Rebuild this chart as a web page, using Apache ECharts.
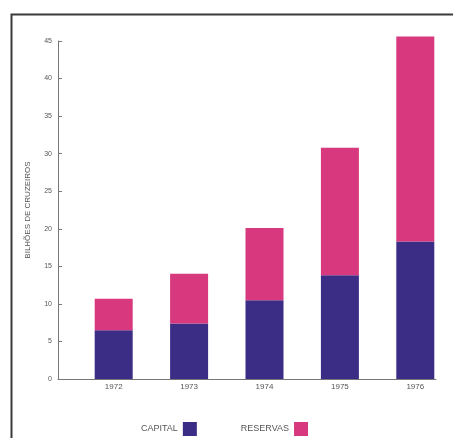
<!DOCTYPE html>
<html>
<head>
<meta charset="utf-8">
<script src="https://cdn.jsdelivr.net/npm/echarts@6/dist/echarts.min.js"></script>
<style>
  html, body { margin: 0; padding: 0; background: #fff; }
  #chart { width: 453px; height: 438px; }
</style>
</head>
<body>
<div id="chart"></div>
<script>
// Years and stacked values (bilhões de cruzeiros)
const years = ['1972', '1973', '1974', '1975', '1976'];
const capital = [6.5, 7.4, 10.5, 13.8, 18.3];
const reservas = [4.2, 6.6, 9.6, 17.0, 27.3];

const seriesNames = ['CAPITAL', 'RESERVAS'];
const colors = ['#3b2d86', '#d8387d'];

const chart = echarts.init(document.getElementById('chart'), null, { renderer: 'canvas' });

const axisColor = '#777';
const textColor = '#555';

chart.setOption({
  animation: false,
  backgroundColor: '#ffffff',
  textStyle: { fontFamily: 'Liberation Sans, Arial, sans-serif' },
  graphic: [{
    type: 'rect',
    left: 9, top: 12,
    shape: { width: 470, height: 450 },
    style: { fill: 'none', stroke: '#3a3a3a', lineWidth: 2 },
    silent: true
  }],
  // grid 0 carries the drawn axes; grid 1 holds the bars, offset to the right
  grid: [
    { left: 58, right: 17, top: 41, bottom: 59 },
    { left: 76, width: 381, top: 41, bottom: 59 }
  ],
  legend: {
    left: 136, top: 417,
    align: 'right',
    itemWidth: 14, itemHeight: 14, itemGap: 44,
    icon: 'rect',
    textStyle: { fontSize: 9, color: textColor },
    data: seriesNames
  },
  xAxis: [
    {
      gridIndex: 0, type: 'value', min: 0, max: 1,
      axisLine: { show: true, lineStyle: { color: axisColor, width: 1 } },
      axisTick: { show: false }, axisLabel: { show: false }, splitLine: { show: false }
    },
    {
      gridIndex: 1, type: 'category', data: years,
      axisLine: { show: false }, axisTick: { show: false }, splitLine: { show: false },
      axisLabel: { fontSize: 8, color: textColor, margin: 4 }
    }
  ],
  yAxis: [
    {
      gridIndex: 0, type: 'value', min: 0, max: 45, interval: 5,
      name: 'BILHÕES DE CRUZEIROS',
      nameLocation: 'middle', nameRotate: 90, nameGap: 26,
      nameTextStyle: { fontSize: 8, color: textColor },
      axisLine: { show: true, lineStyle: { color: axisColor, width: 1 } },
      axisTick: { show: true, inside: true, length: 4, lineStyle: { color: axisColor } },
      axisLabel: { fontSize: 7, color: textColor, margin: 6 },
      splitLine: { show: false }
    },
    {
      gridIndex: 1, type: 'value', min: 0, max: 45, show: false, splitLine: { show: false }
    }
  ],
  series: [
    {
      name: seriesNames[0], type: 'bar', stack: 'total', barWidth: 38, clip: false,
      xAxisIndex: 1, yAxisIndex: 1,
      itemStyle: { color: colors[0] },
      data: capital
    },
    {
      name: seriesNames[1], type: 'bar', stack: 'total', barWidth: 38, clip: false,
      xAxisIndex: 1, yAxisIndex: 1,
      itemStyle: { color: colors[1] },
      data: reservas
    }
  ]
});
</script>
</body>
</html>
